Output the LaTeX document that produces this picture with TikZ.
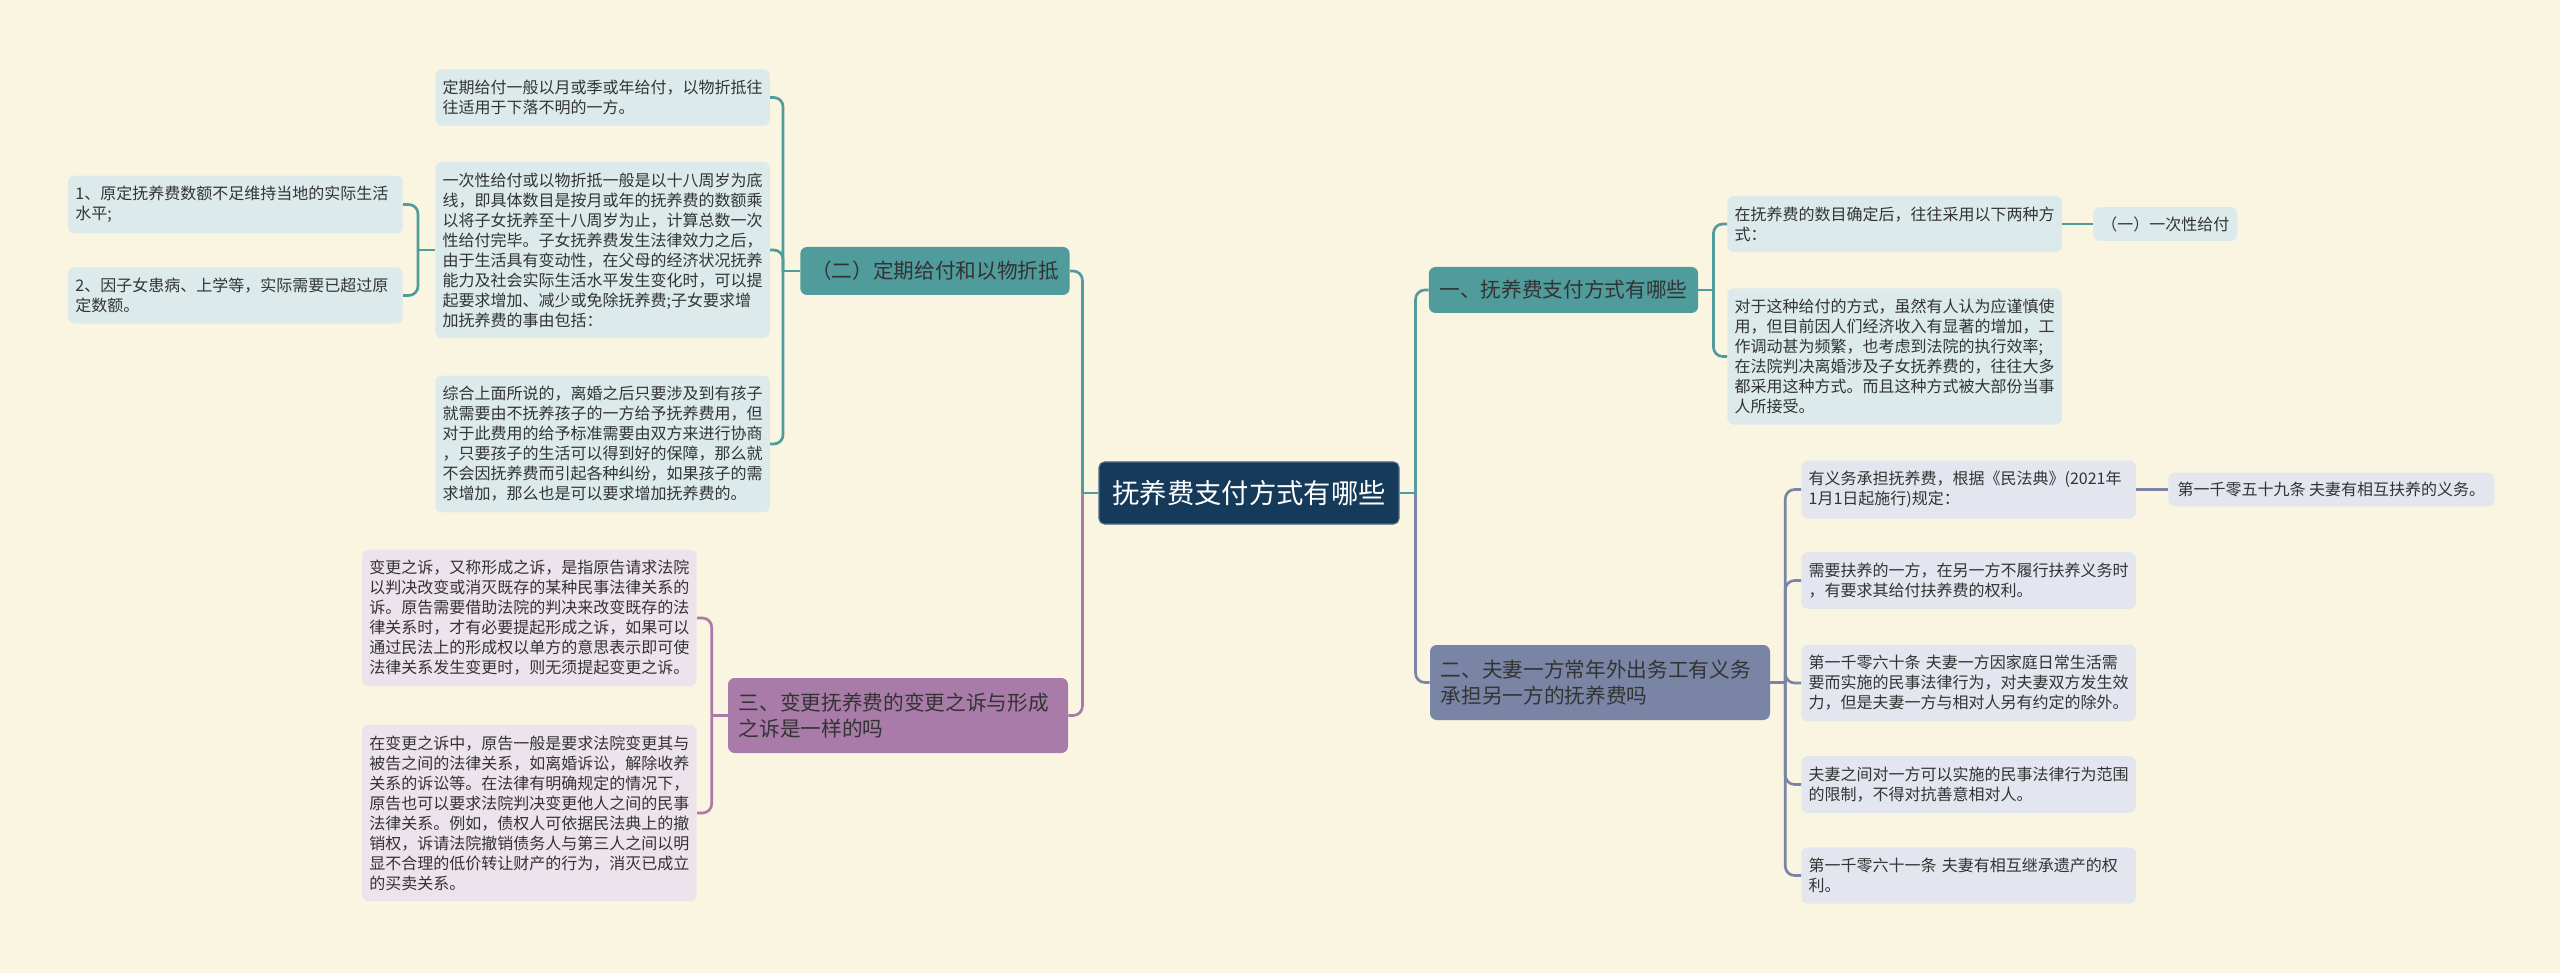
\documentclass[tikz,border=0pt]{standalone}
\usepackage{fontspec}
\setmainfont{Noto Sans CJK SC}
\usepackage{xcolor}
\usepackage{tikz}
\usetikzlibrary{calc,positioning}
\definecolor{bgc}{HTML}{FAF5E1}
\definecolor{rootc}{HTML}{163A5A}
\definecolor{tealc}{HTML}{509B9B}
\definecolor{purc}{HTML}{A87BA8}
\definecolor{slatec}{HTML}{7A85A5}
\definecolor{tealbg}{HTML}{DCEAEC}
\definecolor{purbg}{HTML}{ECE3EC}
\definecolor{slatebg}{HTML}{E3E6EE}
\definecolor{txtc}{HTML}{333333}
\tikzset{
  rootbox/.style={rectangle,rounded corners=4pt,fill=rootc,draw=rootc!75!white,line width=0.8pt,text=white,font=\fontsize{20.5}{24}\selectfont,minimum width=225pt,minimum height=46.5pt,inner sep=0pt},
  brbox/.style={rectangle,rounded corners=5pt,text=txtc,font=\fontsize{15.5}{19}\selectfont,inner xsep=8pt,inner ysep=0pt,align=left},
  leaf/.style={rectangle,rounded corners=5pt,text=txtc,font=\fontsize{12}{15}\selectfont,inner xsep=5.5pt,inner ysep=8pt,align=left},
  wide/.style={text width=240pt},
  tl/.style={draw=tealc,line width=2pt,rounded corners=7pt},
  pl/.style={draw=purc,line width=2pt,rounded corners=7pt},
  sl/.style={draw=slatec,line width=2pt,rounded corners=7pt}
}
\begin{document}
\begin{tikzpicture}[x=0.75pt,y=-0.75pt]
\fill[bgc] (0,0) rectangle (2560,973);
\useasboundingbox (0,0) rectangle (2560,973);
% centre
\node[rootbox] (root) at (1249,493) {抚养费支付方式有哪些};
% main branches
\node[brbox,fill=tealc,minimum width=199.5pt,minimum height=36pt,align=center] (dq) at (935,271) {（二）定期给付和以物折抵};
\node[brbox,fill=purc,text width=239pt,minimum height=56.25pt] (bg) at (898,715.5) {三、变更抚养费的变更之诉与形成\\之诉是一样的吗};
\node[brbox,fill=tealc,minimum width=200pt,minimum height=34.5pt,align=center] (zf) at (1563.5,290) {一、抚养费支付方式有哪些};
\node[brbox,fill=slatec,text width=239pt,minimum height=56.25pt] (fq) at (1600,682.5) {二、夫妻一方常年外出务工有义务\\承担另一方的抚养费吗};
% left, teal
\node[leaf,wide,fill=tealbg,anchor=west] (dq1) at (435,97.5) {定期给付一般以月或季或年给付，以物折抵往\\往适用于下落不明的一方。};
\node[leaf,wide,fill=tealbg,anchor=west] (dq2) at (435,250) {一次性给付或以物折抵一般是以十八周岁为底\\线，即具体数目是按月或年的抚养费的数额乘\\以将子女抚养至十八周岁为止，计算总数一次\\性给付完毕。子女抚养费发生法律效力之后，\\由于生活具有变动性，在父母的经济状况抚养\\能力及社会实际生活水平发生变化时，可以提\\起要求增加、减少或免除抚养费;子女要求增\\加抚养费的事由包括：};
\node[leaf,wide,fill=tealbg,anchor=west] (dq3) at (435,444) {综合上面所说的，离婚之后只要涉及到有孩子\\就需要由不抚养孩子的一方给予抚养费用，但\\对于此费用的给予标准需要由双方来进行协商\\，只要孩子的生活可以得到好的保障，那么就\\不会因抚养费而引起各种纠纷，如果孩子的需\\求增加，那么也是可以要求增加抚养费的。};
\node[leaf,wide,fill=tealbg,anchor=east] (dq2a) at (403,204.5) {1、原定抚养费数额不足维持当地的实际生活\\水平;};
\node[leaf,wide,fill=tealbg,anchor=east] (dq2b) at (403,295.5) {2、因子女患病、上学等，实际需要已超过原\\定数额。};
% left, purple
\node[leaf,wide,fill=purbg,anchor=east] (bg1) at (697,618) {变更之诉，又称形成之诉，是指原告请求法院\\以判决改变或消灭既存的某种民事法律关系的\\诉。原告需要借助法院的判决来改变既存的法\\律关系时，才有必要提起形成之诉，如果可以\\通过民法上的形成权以单方的意思表示即可使\\法律关系发生变更时，则无须提起变更之诉。};
\node[leaf,wide,fill=purbg,anchor=east] (bg2) at (697,813) {在变更之诉中，原告一般是要求法院变更其与\\被告之间的法律关系，如离婚诉讼，解除收养\\关系的诉讼等。在法律有明确规定的情况下，\\原告也可以要求法院判决变更他人之间的民事\\法律关系。例如，债权人可依据民法典上的撤\\销权，诉请法院撤销债务人与第三人之间以明\\显不合理的低价转让财产的行为，消灭已成立\\的买卖关系。};
% right, teal
\node[leaf,wide,fill=tealbg,anchor=west] (zf1) at (1727,224) {在抚养费的数目确定后，往往采用以下两种方\\式：};
\node[leaf,fill=tealbg,anchor=west,inner xsep=6pt,inner ysep=7pt] (zf1a) at (2093,224) {（一）一次性给付};
\node[leaf,wide,fill=tealbg,anchor=west] (zf2) at (1727,356.5) {对于这种给付的方式，虽然有人认为应谨慎使\\用，但目前因人们经济收入有显著的增加，工\\作调动甚为频繁，也考虑到法院的执行效率;\\在法院判决离婚涉及子女抚养费的，往往大多\\都采用这种方式。而且这种方式被大部份当事\\人所接受。};
% right, slate
\node[leaf,wide,fill=slatebg,anchor=west] (fq1) at (1801,489.5) {有义务承担抚养费，根据《民法典》(2021年\\1月1日起施行)规定：};
\node[leaf,fill=slatebg,anchor=west,inner xsep=7pt,inner ysep=7pt] (fq1a) at (2168,489.5) {第一千零五十九条 夫妻有相互扶养的义务。};
\node[leaf,wide,fill=slatebg,anchor=west] (fq2) at (1801,580.5) {需要扶养的一方，在另一方不履行扶养义务时\\，有要求其给付扶养费的权利。};
\node[leaf,wide,fill=slatebg,anchor=west] (fq3) at (1801,683) {第一千零六十条 夫妻一方因家庭日常生活需\\要而实施的民事法律行为，对夫妻双方发生效\\力，但是夫妻一方与相对人另有约定的除外。};
\node[leaf,wide,fill=slatebg,anchor=west] (fq4) at (1801,784.5) {夫妻之间对一方可以实施的民事法律行为范围\\的限制，不得对抗善意相对人。};
\node[leaf,wide,fill=slatebg,anchor=west] (fq5) at (1801,875.5) {第一千零六十一条 夫妻有相互继承遗产的权\\利。};
% connectors
\draw[tl] (root.west) -- ++(-16,0) coordinate (rl);
\draw[tl] (rl) |- (dq.east);
\draw[pl] (rl) |- (bg.east);
\draw[tl] (root.east) -- ++(16,0) coordinate (rr);
\draw[tl] (rr) |- (zf.west);
\draw[sl] (rr) |- (fq.west);
\draw[tl] (dq.west) -- ++(-17,0) coordinate (dql);
\draw[tl] (dql) |- (dq1.east);
\draw[tl] (dql) |- (dq2.east);
\draw[tl] (dql) |- (dq3.east);
\draw[tl] (dq2.west) -- ++(-17,0) coordinate (dq2l);
\draw[tl] (dq2l) |- (dq2a.east);
\draw[tl] (dq2l) |- (dq2b.east);
\draw[pl] (bg.west) -- ++(-16,0) coordinate (bgl);
\draw[pl] (bgl) |- (bg1.east);
\draw[pl] (bgl) |- (bg2.east);
\draw[tl] (zf.east) -- ++(15,0) coordinate (zfr);
\draw[tl] (zfr) |- (zf1.west);
\draw[tl] (zfr) |- (zf2.west);
\draw[tl] (zf1.east) -- (zf1a.west);
\draw[sl] (fq.east) -- ++(15,0) coordinate (fqr);
\draw[sl] (fqr) |- (fq1.west);
\draw[sl] (fqr) |- (fq2.west);
\draw[sl] (fqr) |- (fq3.west);
\draw[sl] (fqr) |- (fq4.west);
\draw[sl] (fqr) |- (fq5.west);
\draw[sl] (fq1.east) -- (fq1a.west);
\end{tikzpicture}
\end{document}
